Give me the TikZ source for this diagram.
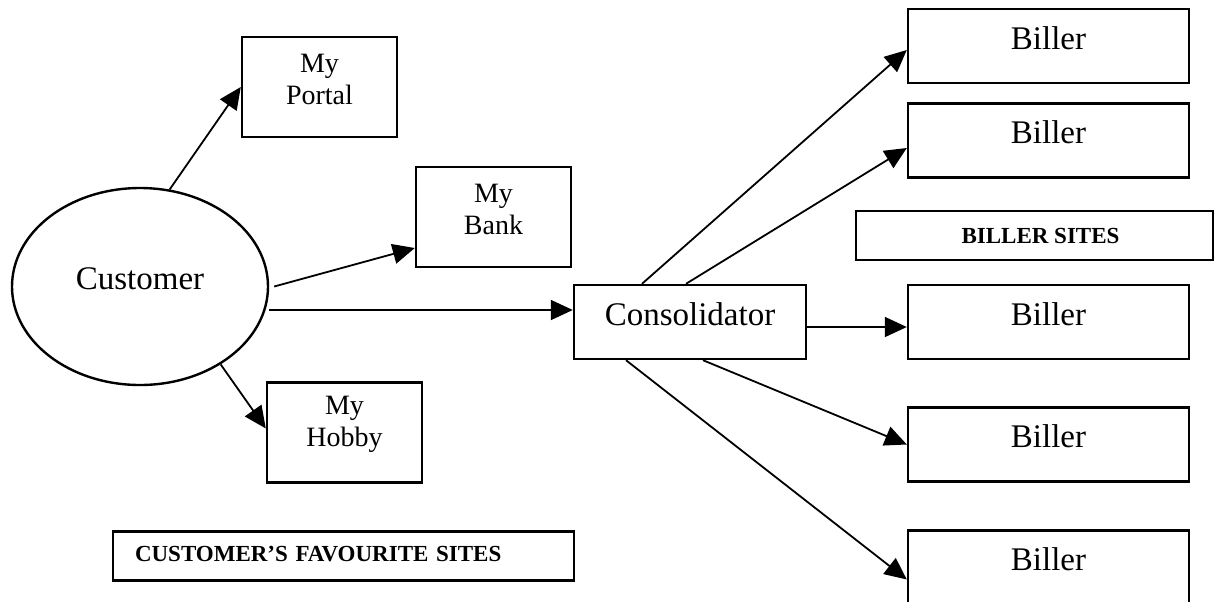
\documentclass[tikz,border=0pt]{standalone}
\usepackage{fontspec}
\setmainfont{Liberation Serif}
\usetikzlibrary{arrows.meta,shapes.geometric}
\begin{document}
\begin{tikzpicture}[x=0.5pt,y=-0.5pt,line width=1.2pt,
  big/.style={draw,font=\fontsize{16.5}{19}\selectfont,text depth=8pt},
  site/.style={draw,minimum width=77.5pt,minimum height=50pt,align=center,
    font=\fontsize{14}{16}\selectfont,text depth=8pt},
  biller/.style={big,minimum width=140.5pt,minimum height=37pt},
  tag/.style={draw,font=\fontsize{11.5}{13}\selectfont\bfseries,minimum height=24.5pt},
  arr/.style={line width=0.9pt,-{Triangle[length=11pt,width=10pt]}}]
\useasboundingbox (0,0) rectangle (1215,601);
% customer side
\node[big,ellipse,minimum width=128pt,minimum height=98.5pt] (cust) at (140,286.5) {Customer};
\node[site] (portal) at (319.5,87) {My\\Portal};
\node[site] (bank) at (493.5,217) {My\\Bank};
\node[site,text depth=11pt] (hobby) at (344.5,432.5) {My\\Hobby};
\node[tag,minimum width=230.5pt,text width=208.5pt,inner xsep=11pt,align=left,text depth=2.5pt] (favsites) at (343.5,556) {CUSTOMER’S FAVOURITE SITES};
% consolidator and billers
\node[big,minimum width=116pt,minimum height=37pt] (cons) at (690,322) {Consolidator};
\node[biller] (b1) at (1048.5,46) {Biller};
\node[biller] (b2) at (1048.5,140.5) {Biller};
\node[tag,minimum width=178.5pt] (billsites) at (1034.5,235.5) {\hspace{6pt}BILLER SITES};
\node[biller] (b3) at (1048.5,322) {Biller};
\node[biller] (b4) at (1048.5,444.5) {Biller};
\node[biller] (b5) at (1048.5,567.5) {Biller};
% arrows
\draw[arr] (cust.73) -- (portal.west);
\draw[arr] ([xshift=2.5pt]cust.east) -- ([yshift=-15.5pt]bank.west);
\draw[arr] ([yshift=6pt]cons.west -| cust.east) -- ([yshift=6pt]cons.west);
\draw[arr] (cust.-44) -- ([yshift=2pt]hobby.west);
\draw[arr] ([xshift=-24pt]cons.north) -- ([yshift=-2pt]b1.west);
\draw[arr] ([xshift=-2pt]cons.north) -- ([yshift=-3.75pt]b2.west);
\draw[arr] ([yshift=-2.5pt]cons.east) -- ([yshift=-2.5pt]b3.west);
\draw[arr] ([xshift=6.5pt]cons.south) -- (b4.west);
\draw[arr] ([xshift=-32pt]cons.south) -- ([yshift=-6pt]b5.west);
\end{tikzpicture}
\end{document}
